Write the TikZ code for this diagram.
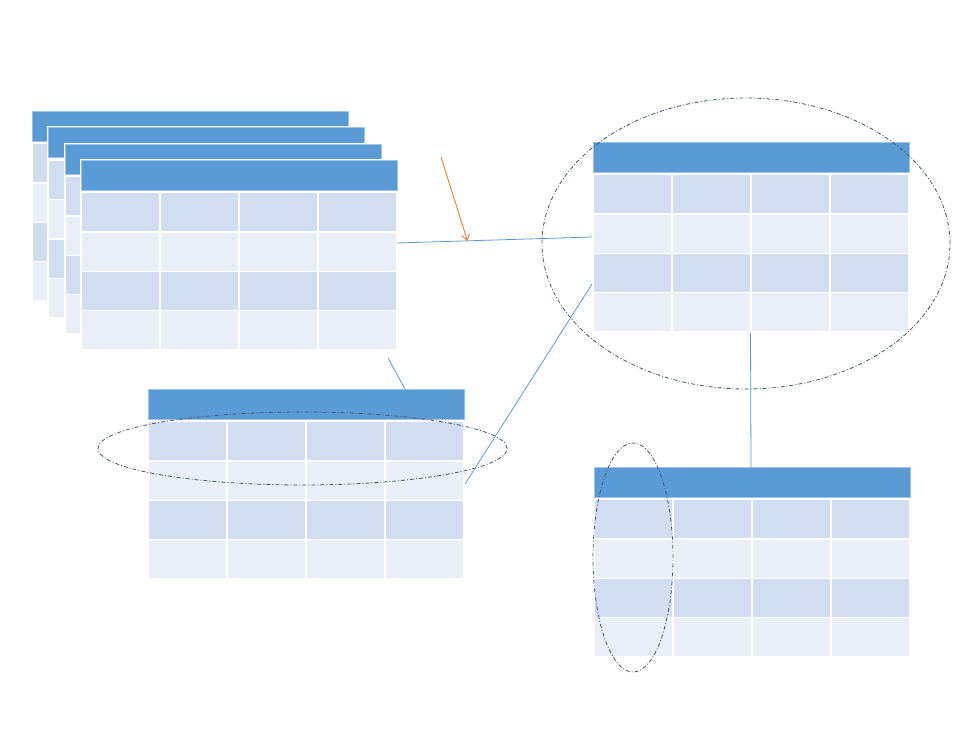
\documentclass[tikz,border=0pt]{standalone}
\usetikzlibrary{arrows.meta,shapes.geometric}
\definecolor{hdrblue}{HTML}{5B9BD5}
\definecolor{hdredge}{HTML}{9DC3E6}
\definecolor{celldark}{HTML}{D2DEEF}
\definecolor{celllight}{HTML}{EAEFF7}
\definecolor{selgray}{HTML}{44546A}
\definecolor{arrorange}{HTML}{ED7D31}
\tikzset{
  hdr/.style={fill=hdrblue,draw=hdredge,line width=0.8pt},
  cellA/.style={fill=celldark,draw=white,line width=1.4pt},
  cellB/.style={fill=celllight,draw=white,line width=1.4pt},
  tblnode/.style={inner sep=0pt,minimum width=316pt,minimum height=190pt,anchor=north west},
  sel/.style={ellipse,draw=selgray,line width=0.8pt,dash pattern=on 4pt off 2pt on 1pt off 2pt,inner sep=0pt},
  link/.style={draw=hdrblue,line width=0.8pt},
  pointer/.style={draw=arrorange,line width=0.9pt,-{Straight Barb[length=6pt,width=8pt]}}
}
\newcommand{\mytable}[3]{%
  \fill[white] (#2-1.5,#3-1.5) rectangle ++(319,193);
  \draw[hdr] (#2,#3) rectangle ++(316,30);
  \foreach \i in {0,1,2,3}{
    \foreach \j in {0,1,2,3}{
      \pgfmathsetmacro{\cx}{#2+\j*79}
      \pgfmathsetmacro{\cy}{#3+32.5+\i*39.4}
      \ifodd\i
        \draw[cellB] (\cx,\cy) rectangle ++(79,39.4);
      \else
        \draw[cellA] (\cx,\cy) rectangle ++(79,39.4);
      \fi
    }
  }
  \node[tblnode] (#1) at (#2,#3) {};
}
\begin{document}
\begin{tikzpicture}[x=1pt,y=-1pt]
\useasboundingbox[fill=white] (0,0) rectangle (977,734);
% stacked tables
\mytable{s1}{32}{111}
\mytable{s2}{48.5}{127.5}
\mytable{s3}{65}{144}
\mytable{s4}{81}{160}
% other tables
\mytable{tB}{148}{389}
\mytable{tC}{593}{142}
\mytable{tD}{594}{467}
% selections
\node[sel,minimum width=408pt,minimum height=291pt] (selC) at (746,243.5) {};
\node[sel,minimum width=409pt,minimum height=73pt] (selB) at (302.5,448.5) {};
\node[sel,minimum width=80pt,minimum height=229pt] (selD) at (633,557.5) {};
% connector end points
\coordinate (p1a) at (397,243);
\coordinate (p1b) at (592,237);
\coordinate (p2a) at (388,358);
\coordinate (p2b) at (405,389);
\coordinate (p3a) at (465,484);
\coordinate (p3b) at (592,284);
\coordinate (p4a) at (750.5,333);
\coordinate (p4b) at (751,467);
\coordinate (oa) at (441,157);
\coordinate (ob) at (467.5,241);
\draw[link] (p1a) -- (p1b);
\draw[link] (p2a) -- (p2b);
\draw[link] (p3a) -- (p3b);
\draw[link] (p4a) -- (p4b);
\draw[pointer] (oa) -- (ob);
\end{tikzpicture}
\end{document}
